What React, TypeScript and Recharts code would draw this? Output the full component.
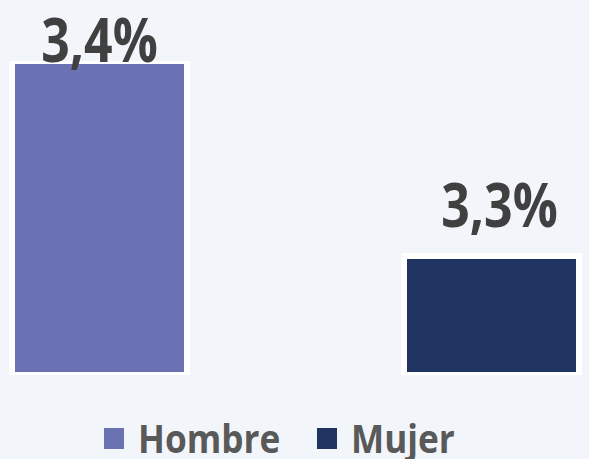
import React from 'react';
import { BarChart, Bar, XAxis, YAxis, Cell, LabelList } from 'recharts';

const categories = ['Hombre', 'Mujer'];
const values = [3.4, 3.3];
const valueLabels = ['3,4%', '3,3%'];
const colors = ['#6A72B4', '#1F3461'];
const yDomain: [number, number] = [3.239, 3.4];

const data = categories.map((c, i) => ({ name: c, value: values[i], label: valueLabels[i] }));

const labelOffsets = [-1, 29];
const labelDx = [0, 8];
const FONT = '"Open Sans", "DejaVu Sans", sans-serif';

const ValueLabel = (props: any) => {
  const { x, y, width, index } = props;
  const cx = x + width / 2 + labelDx[index];
  const cy = y - labelOffsets[index];
  return (
    <g transform={`translate(${cx},${cy}) scale(0.82,1)`}>
      <text
        x={0}
        y={0}
        textAnchor="middle"
        fontFamily={FONT}
        fontWeight={700}
        fontSize={61}
        fill="#404040"
      >
        {valueLabels[index]}
      </text>
    </g>
  );
};

const CustomLegend = () => (
  <div style={{ display: 'flex', alignItems: 'center', fontFamily: FONT, whiteSpace: 'nowrap' }}>
    {categories.map((c, i) => (
      <div key={c} style={{ display: 'flex', alignItems: 'center', marginRight: i === 0 ? 17 : 0 }}>
        <div style={{ width: 20, height: 21, background: colors[i], marginRight: 14 }} />
        <span
          style={{
            fontSize: 40,
            fontWeight: 700,
            color: '#595959',
            display: 'inline-block',
            transform: 'scaleX(0.88)',
            transformOrigin: 'left center',
            lineHeight: '44px',
          }}
        >
          {c}
        </span>
      </div>
    ))}
  </div>
);

export default function App() {
  return (
    <div
      style={{
        position: 'fixed',
        left: 0,
        top: 0,
        width: 589,
        height: 459,
        overflow: 'hidden',
        background: '#F2F6FA',
      }}
    >
      <div style={{ position: 'absolute', left: -97, top: 0 }}>
        <BarChart
          width={784}
          height={459}
          data={data}
          margin={{ top: 61, right: 0, bottom: 84, left: 0 }}
          barSize={175}
        >
          <XAxis dataKey="name" hide />
          <YAxis domain={yDomain} hide allowDataOverflow />
          <Bar dataKey="value" stroke="#FFFFFF" strokeWidth={6} isAnimationActive={false}>
            {data.map((d, i) => (
              <Cell key={d.name} fill={colors[i]} />
            ))}
            <LabelList dataKey="label" content={<ValueLabel />} />
          </Bar>
        </BarChart>
      </div>
      <div style={{ position: 'absolute', left: 104, top: 416 }}>
        <CustomLegend />
      </div>
    </div>
  );
}
